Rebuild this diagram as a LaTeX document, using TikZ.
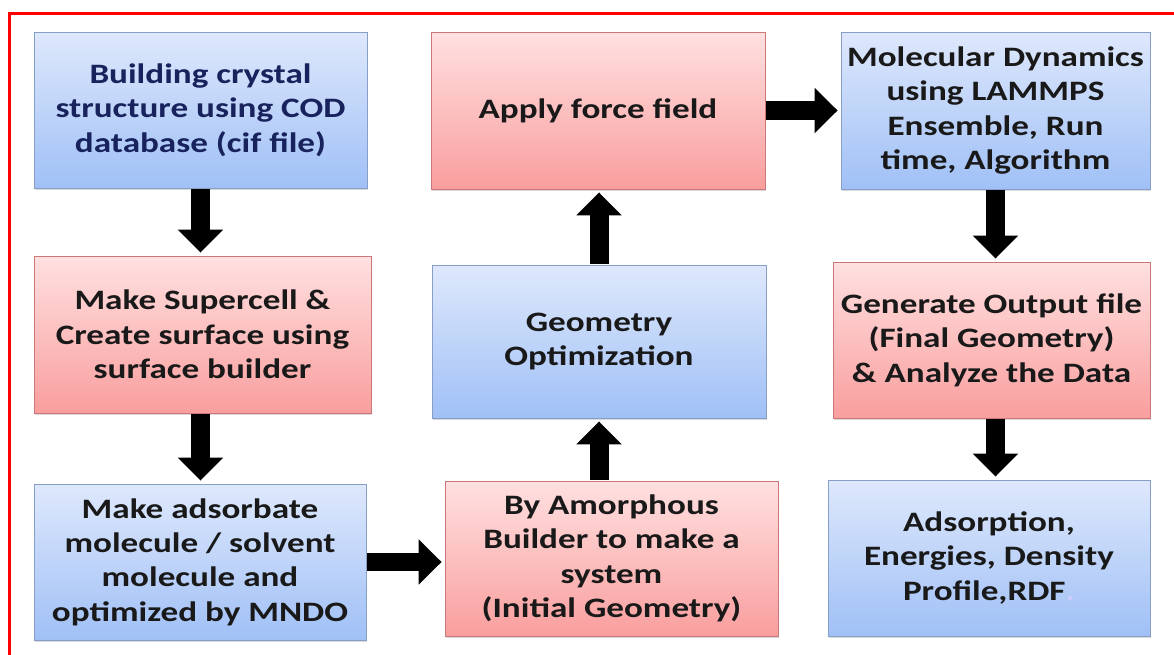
\documentclass[tikz,border=0pt]{standalone}
\usepackage{fontspec}
\setmainfont{Carlito}[FakeStretch=1.25]
\usetikzlibrary{arrows.meta,shadows}

\definecolor{bluetop}{RGB}{222,232,252}
\definecolor{bluebot}{RGB}{160,192,246}
\definecolor{blueedge}{RGB}{135,158,200}
\definecolor{redtop}{RGB}{255,224,224}
\definecolor{redbot}{RGB}{249,158,158}
\definecolor{rededge}{RGB}{205,120,120}
\definecolor{navytext}{RGB}{24,34,92}

\tikzset{
  stage/.style={rectangle, align=center, inner sep=2pt,
    font=\fontsize{16}{19.6}\selectfont\bfseries, text=black!90,
    drop shadow={shadow xshift=0.8pt, shadow yshift=-1.2pt, opacity=0.3}},
  bluestage/.style={stage, top color=bluetop, bottom color=bluebot, draw=blueedge, line width=0.5pt},
  redstage/.style={stage, top color=redtop, bottom color=redbot, draw=rededge, line width=0.5pt},
  flow/.style={line width=0.38cm, -{Triangle[length=0.46cm, width=0.88cm]},
    shorten >=0.06cm, shorten <=0.02cm}
}

\begin{document}
\begin{tikzpicture}[x=0.02cm, y=-0.02cm]
  %================= Page frame =================
  \useasboundingbox (0,0) rectangle (1174,655);
  \draw[red, line width=0.06cm] (1174,13.5) -- (9.5,13.5) -- (9.5,655);

  %================= Left column =================
  \node[bluestage, text=navytext, minimum width=6.66cm, minimum height=3.12cm]
    (cod) at (200.5,110) {Building crystal\\structure using COD\\database (cif file)};
  \node[redstage, minimum width=6.74cm, minimum height=3.14cm]
    (supercell) at (202.5,334.5) {Make Supercell \&\\Create surface using\\surface builder};
  \node[bluestage, minimum width=6.64cm, minimum height=3.12cm]
    (adsorbate) at (200,562) {Make adsorbate\\molecule / solvent\\molecule and\\optimized by MNDO};

  %================= Middle column =================
  \node[redstage, minimum width=6.66cm, minimum height=3.10cm]
    (amorphous) at (611.5,558.5) {By Amorphous\\Builder to make a\\system\\(Initial Geometry)};
  \node[bluestage, minimum width=6.68cm, minimum height=3.06cm]
    (geomopt) at (599,341.5) {Geometry\\Optimization};
  \node[redstage, minimum width=6.68cm, minimum height=3.14cm]
    (forcefield) at (598,110.5) {Apply force field};

  %================= Right column =================
  \node[bluestage, minimum width=6.18cm, minimum height=3.14cm]
    (lammps) at (995.5,110.5) {Molecular Dynamics\\using LAMMPS\\Ensemble, Run\\time, Algorithm};
  \node[redstage, minimum width=6.34cm, minimum height=3.12cm]
    (output) at (991.5,340) {Generate Output file\\(Final Geometry)\\\& Analyze the Data};
  \node[bluestage, minimum width=6.44cm, minimum height=3.12cm]
    (results) at (989,558) {Adsorption,\\Energies, Density\\Profile,RDF{\color{white!80!blue}.}};

  %================= Flow arrows =================
  \draw[flow] (cod.south) -- (cod.south |- supercell.north);
  \draw[flow] (supercell.south -| cod.south) -- (cod.south |- adsorbate.north);
  \draw[flow] (adsorbate.east) -- (adsorbate.east -| amorphous.west);
  \draw[flow] (amorphous.north -| geomopt.south) -- (geomopt.south);
  \draw[flow] (geomopt.north) -- (geomopt.north |- forcefield.south);
  \draw[flow] (forcefield.east) -- (forcefield.east -| lammps.west);
  \draw[flow] (lammps.south) -- (lammps.south |- output.north);
  \draw[flow] (output.south -| lammps.south) -- (lammps.south |- results.north);
\end{tikzpicture}
\end{document}
